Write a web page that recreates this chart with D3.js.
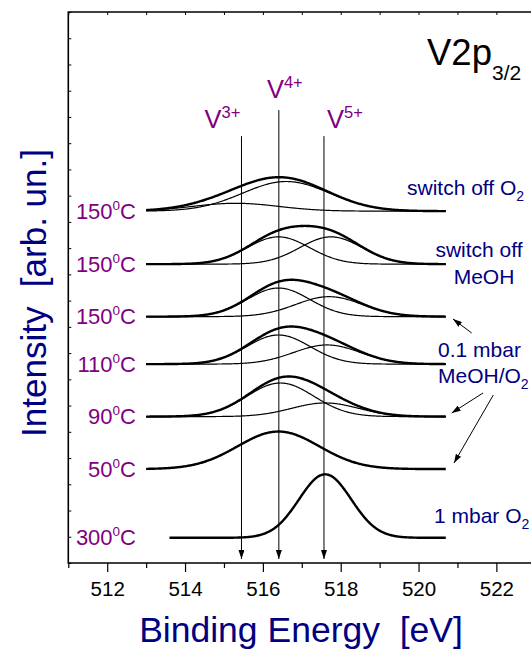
<!DOCTYPE html>
<html>
<head>
<meta charset="utf-8">
<script src="https://cdn.jsdelivr.net/npm/d3@7"></script>
<style>
  html, body { margin: 0; padding: 0; background: #fff; }
  svg { display: block; font-family: "Liberation Sans", Arial, sans-serif; }
  text { white-space: pre; }
</style>
</head>
<body>
<svg id="chart" width="531" height="650"></svg>
<script>
// ---------------- data ----------------
const tempLabels   = ["150", "150", "150", "110", "90", "50", "300"];
const conditions   = ["switch off O2", "switch off MeOH", "0.1 mbar MeOH/O2", "0.1 mbar MeOH/O2", "0.1 mbar MeOH/O2", "0.1 mbar MeOH/O2", "1 mbar O2"];
const baselines    = [13.41, 11.39, 9.39, 7.58, 5.58, 3.58, 0.96];    // vertical offset (arb. un.)
const rangeStart   = [513.0, 513.0, 513.0, 513.0, 513.0, 513.0, 513.6]; // eV
const rangeEnd     = [520.7, 520.7, 520.7, 520.7, 520.7, 520.7, 520.7]; // eV
// fitted components: centre (eV), height (arb. un.), gaussian sigma (eV)
const peakCenters  = [[516.6, 515.3], [516.4, 517.75], [516.4, 517.7], [516.4, 517.65], [516.45, 517.6], [516.4], [517.6]];
const peakHeights  = [[1.13, 0.30], [1.04, 1.04], [1.09, 0.76], [1.11, 0.73], [1.28, 0.52], [1.43], [2.42]];
const peakSigmas   = [[1.12, 1.10], [0.80, 0.80], [0.80, 0.86], [0.81, 0.86], [0.86, 0.86], [1.05], [0.67]];

const markerBE     = [515.45, 516.41, 517.57];   // V3+, V4+, V5+
const markerTop    = [16.27, 17.26, 16.27];
const markerCharge = ["3+", "4+", "5+"];

const xMajorTicks  = [512, 514, 516, 518, 520, 522];
const xMinorTicks  = d3.range(511, 525, 1);
const yTicks       = d3.range(0, 22, 1);

// ---------------- scales ----------------
const svg = d3.select("#chart");
const x = d3.scaleLinear().domain([511, 524]).range([68.3, 574.2]);
const y = d3.scaleLinear().domain([0, 21]).range([563, 12]);

const purple = "#800080", navy = "#000080";

// arrow markers
const defs = svg.append("defs");
defs.append("marker").attr("id", "arr").attr("markerUnits", "userSpaceOnUse")
  .attr("markerWidth", 10).attr("markerHeight", 6).attr("refX", 9).attr("refY", 3)
  .attr("orient", "auto")
  .append("path").attr("d", "M0,0 L9,3 L0,6 Z").attr("fill", "#000");

// ---------------- axes ----------------
svg.append("g").attr("transform", `translate(0,${y(0)})`)
  .call(d3.axisBottom(x).tickValues(xMajorTicks).tickSize(9).tickFormat(d3.format("d")))
  .call(g => g.select(".domain").remove())
  .call(g => g.selectAll("line").attr("stroke", "#000").attr("stroke-width", 1.2))
  .call(g => g.selectAll("text").attr("font-size", 20.5).attr("fill", "#000")
                .attr("font-family", "Liberation Sans, Arial, sans-serif").attr("dy", "1.0em"));
svg.append("g").attr("transform", `translate(0,${y(0)})`)
  .call(d3.axisBottom(x).tickValues(xMinorTicks.filter(v => !xMajorTicks.includes(v))).tickSize(5).tickFormat(""))
  .call(g => g.select(".domain").remove())
  .call(g => g.selectAll("line").attr("stroke", "#000").attr("stroke-width", 1.2));
svg.append("g").attr("transform", `translate(0,${y(21)})`)
  .call(d3.axisTop(x).tickValues(xMinorTicks).tickSize(-3).tickFormat(""))
  .call(g => g.select(".domain").remove())
  .call(g => g.selectAll("line").attr("stroke", "#000"));
svg.append("g").attr("transform", `translate(${x(511)},0)`)
  .call(d3.axisLeft(y).tickValues(yTicks).tickSize(-3).tickFormat(""))
  .call(g => g.select(".domain").remove())
  .call(g => g.selectAll("line").attr("stroke", "#000"));

// frame
svg.append("path")
  .attr("d", `M${x(524)},${y(21)} L${x(511)},${y(21)} L${x(511)},${y(0)} L${x(524)},${y(0)}`)
  .attr("fill", "none").attr("stroke", "#000").attr("stroke-width", 1.6);

// axis titles
svg.append("text").attr("x", 301).attr("y", 642).attr("text-anchor", "middle")
  .attr("font-size", 35.5).attr("fill", navy).text("Binding Energy  [eV]");
svg.append("text").attr("transform", "translate(46,293) rotate(-90)").attr("text-anchor", "middle")
  .attr("font-size", 35).attr("fill", navy).text("Intensity  [arb. un.]");

// ---------------- spectra ----------------
const gauss = (e, c, h, s) => h * Math.exp(-((e - c) ** 2) / (2 * s * s));
const lineGen = d3.line().x(d => x(d[0])).y(d => y(d[1]));

tempLabels.forEach((t, i) => {
  const es = d3.range(rangeStart[i], rangeEnd[i] + 1e-9, 0.02);
  const g = svg.append("g");
  // components
  if (peakCenters[i].length > 1) {
    peakCenters[i].forEach((c, k) => {
      const pts = es.map(e => [e, baselines[i] + gauss(e, c, peakHeights[i][k], peakSigmas[i][k])]);
      g.append("path").attr("d", lineGen(pts)).attr("fill", "none")
        .attr("stroke", "#000").attr("stroke-width", 1.2);
    });
  }
  // envelope / measured
  const env = es.map(e => [e, baselines[i] + d3.sum(peakCenters[i], (c, k) => gauss(e, c, peakHeights[i][k], peakSigmas[i][k]))]);
  g.append("path").attr("d", lineGen(env)).attr("fill", "none")
    .attr("stroke", "#000").attr("stroke-width", 2.4);

  // temperature label
  const lbl = svg.append("text").attr("x", 136).attr("y", y(baselines[i]) + 7.5)
    .attr("text-anchor", "end").attr("font-size", 22).attr("fill", purple);
  lbl.append("tspan").text(t);
  lbl.append("tspan").attr("font-size", 13.5).attr("dy", -9).text("0");
  lbl.append("tspan").attr("dy", 9).text("C");
});

// ---------------- oxidation-state markers ----------------
const labelShift = [-19, 6, 21];
markerBE.forEach((b, i) => {
  svg.append("line").attr("x1", x(b)).attr("x2", x(b))
    .attr("y1", y(markerTop[i])).attr("y2", y(0) - 4)
    .attr("stroke", "#000").attr("stroke-width", 1).attr("marker-end", "url(#arr)");
  const tx = svg.append("text").attr("x", x(b) + labelShift[i]).attr("y", y(markerTop[i]) - (i === 1 ? 12 : 8))
    .attr("text-anchor", "middle").attr("font-size", 25.5).attr("fill", purple);
  tx.append("tspan").text("V");
  tx.append("tspan").attr("font-size", 16.5).attr("dy", -10).text(markerCharge[i]);
});

// ---------------- annotations ----------------
const title = svg.append("text").attr("x", 427).attr("y", 65).attr("font-size", 36.5).attr("fill", "#000");
title.append("tspan").text("V2p");
title.append("tspan").attr("font-size", 21).attr("dy", 15).text("3/2");

function condText(xp, yp, main, sub) {
  const t = svg.append("text").attr("x", xp).attr("y", yp).attr("font-size", 21).attr("fill", navy);
  t.append("tspan").text(main);
  if (sub) t.append("tspan").attr("font-size", 14).attr("dy", 6).text(sub);
  return t;
}
condText(407, 195, "switch off O", "2");
condText(479, 257, "switch off").attr("text-anchor", "middle");
condText(484, 284, "MeOH").attr("text-anchor", "middle");
condText(438, 357, "0.1 mbar");
condText(438, 383, "MeOH/O", "2");
condText(434, 523, "1 mbar O", "2");

// arrows from the "0.1 mbar MeOH/O2" note to the spectra it describes
const noteArrows = [[471.7, 333, 453, 319], [483, 393, 451.7, 413], [493.3, 395, 454, 463]];
noteArrows.forEach(a => {
  svg.append("line").attr("x1", a[0]).attr("y1", a[1]).attr("x2", a[2]).attr("y2", a[3])
    .attr("stroke", "#000").attr("stroke-width", 1).attr("marker-end", "url(#arr)");
});
</script>
</body>
</html>
